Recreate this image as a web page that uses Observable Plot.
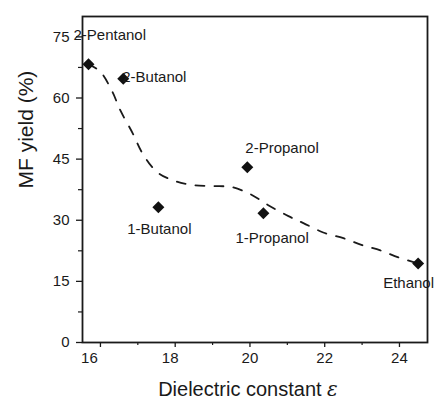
<!DOCTYPE html>
<html><head><meta charset="utf-8">
<script src="https://cdn.jsdelivr.net/npm/d3@7"></script>
<script src="https://cdn.jsdelivr.net/npm/@observablehq/plot@0.6"></script>
<style>body{margin:0;background:#fff;} svg{display:block;background:#fff}</style>
</head><body><div id="chart"></div>
<script>
// ---- data ----
const solvents   = ["2-Pentanol", "2-Butanol", "1-Butanol", "2-Propanol", "1-Propanol", "Ethanol"];
const dielectric = [15.68, 16.61, 17.55, 19.93, 20.36, 24.50];
const mfYield    = [68.3, 64.7, 33.2, 43.0, 31.7, 19.4];

// dashed trend curve (read along the dashes)
const fitX = [15.68, 16.0, 16.32, 16.53, 16.86, 17.12, 17.52, 18.0, 18.49, 19.02, 19.53, 20.01, 20.49, 21.03, 21.43, 21.96, 22.5, 23.0, 23.49, 23.97, 24.5];
const fitY = [68.3, 66.4, 61.5, 57.0, 51.4, 46.5, 41.8, 39.6, 38.6, 38.4, 38.1, 36.4, 33.7, 31.0, 29.3, 27.0, 25.6, 23.9, 22.6, 20.9, 19.4];

const xTicks = [16, 18, 20, 22, 24];
const xMinorTicks = [17, 19, 21, 23];
const yTicks = [0, 15, 30, 45, 60, 75];
const yMinorTicks = [7.5, 22.5, 37.5, 52.5, 67.5];
const xLabel = "Dielectric constant ε";
const yLabel = "MF yield (%)";

// ---- build ----
const points = solvents.map((s, i) => ({solvent: s, x: dielectric[i], y: mfYield[i]}));
const fit = fitX.map((x, i) => ({x, y: fitY[i]}));

// label placement relative to each point (pixels)
const labelPlacement = {
  "2-Pentanol": {dx: -15, dy: -29, anchor: "start"},
  "2-Butanol":  {dx: -1,  dy: -2,  anchor: "start"},
  "1-Butanol":  {dx: 1,   dy: 22,  anchor: "middle"},
  "2-Propanol": {dx: -2,  dy: -19, anchor: "start"},
  "1-Propanol": {dx: -28, dy: 25,  anchor: "start"},
  "Ethanol":    {dx: -35, dy: 20,  anchor: "start"}
};
const labelMarks = solvents.map(s => {
  const p = labelPlacement[s];
  return Plot.text(points.filter(d => d.solvent === s), {
    x: "x", y: "y", text: "solvent", dx: p.dx, dy: p.dy, textAnchor: p.anchor,
    fontSize: 15, fill: "#1a1a1a"
  });
});

// tick label nudges (as printed in the reference)
const xTickLabelShift = {16: -11, 18: -5, 20: 0, 22: 0, 24: 0};
const xTickLabelMarks = xTicks.map(t => Plot.axisX([t], {
  tickSize: 0, tickPadding: 10, dx: xTickLabelShift[t], fontSize: 15, label: null, fill: "#1a1a1a"
}));

const plot = Plot.plot({
  width: 437, height: 405,
  marginLeft: 82, marginRight: 10, marginTop: 16, marginBottom: 63,
  style: {fontFamily: "'Liberation Sans', Arial, sans-serif", fontSize: "15px", color: "#1a1a1a", background: "#fff"},
  x: {domain: [15.52, 24.75], label: null},
  y: {domain: [0, 80], label: null},
  marks: [
    Plot.axisY(yTicks, {tickSize: 6, tickPadding: 7, fontSize: 15, label: null, stroke: "#1a1a1a", strokeWidth: 1.3}),
    Plot.axisY(yMinorTicks, {tickSize: 4, text: null, label: null, strokeWidth: 1.2}),
    Plot.axisX(xTicks, {tickSize: 5, text: null, label: null, strokeWidth: 1.3}),
    Plot.axisX(xMinorTicks, {tickSize: 3, text: null, label: null, strokeWidth: 1.2}),
    ...xTickLabelMarks,
    Plot.line(fit, {x: "x", y: "y", curve: "catmull-rom", stroke: "#1a1a1a", strokeWidth: 1.8, strokeDasharray: "9,10"}),
    Plot.dot(points, {x: "x", y: "y", symbol: "diamond2", r: 5.4, fill: "#111", stroke: "none"}),
    Plot.frame({stroke: "#1a1a1a", strokeWidth: 1.8}),
    ...labelMarks,
    Plot.text([yLabel], {frameAnchor: "left", text: d => d, rotate: -90, dx: -56, dy: 9, fontSize: 21, fill: "#1a1a1a"}),
    Plot.text([xLabel], {frameAnchor: "bottom", text: d => d, dx: -7, dy: 53, fontSize: 20, fill: "#1a1a1a"})
  ]
});

// italicise the epsilon in the x label
d3.select(plot).selectAll("text").filter(function() { return this.textContent === xLabel; })
  .each(function() {
    const t = d3.select(this);
    t.text("Dielectric constant ");
    t.append("tspan").attr("font-style", "italic").attr("font-family", "'DejaVu Serif', serif").text("ε");
  });

document.getElementById("chart").appendChild(plot);
</script>
</body></html>
